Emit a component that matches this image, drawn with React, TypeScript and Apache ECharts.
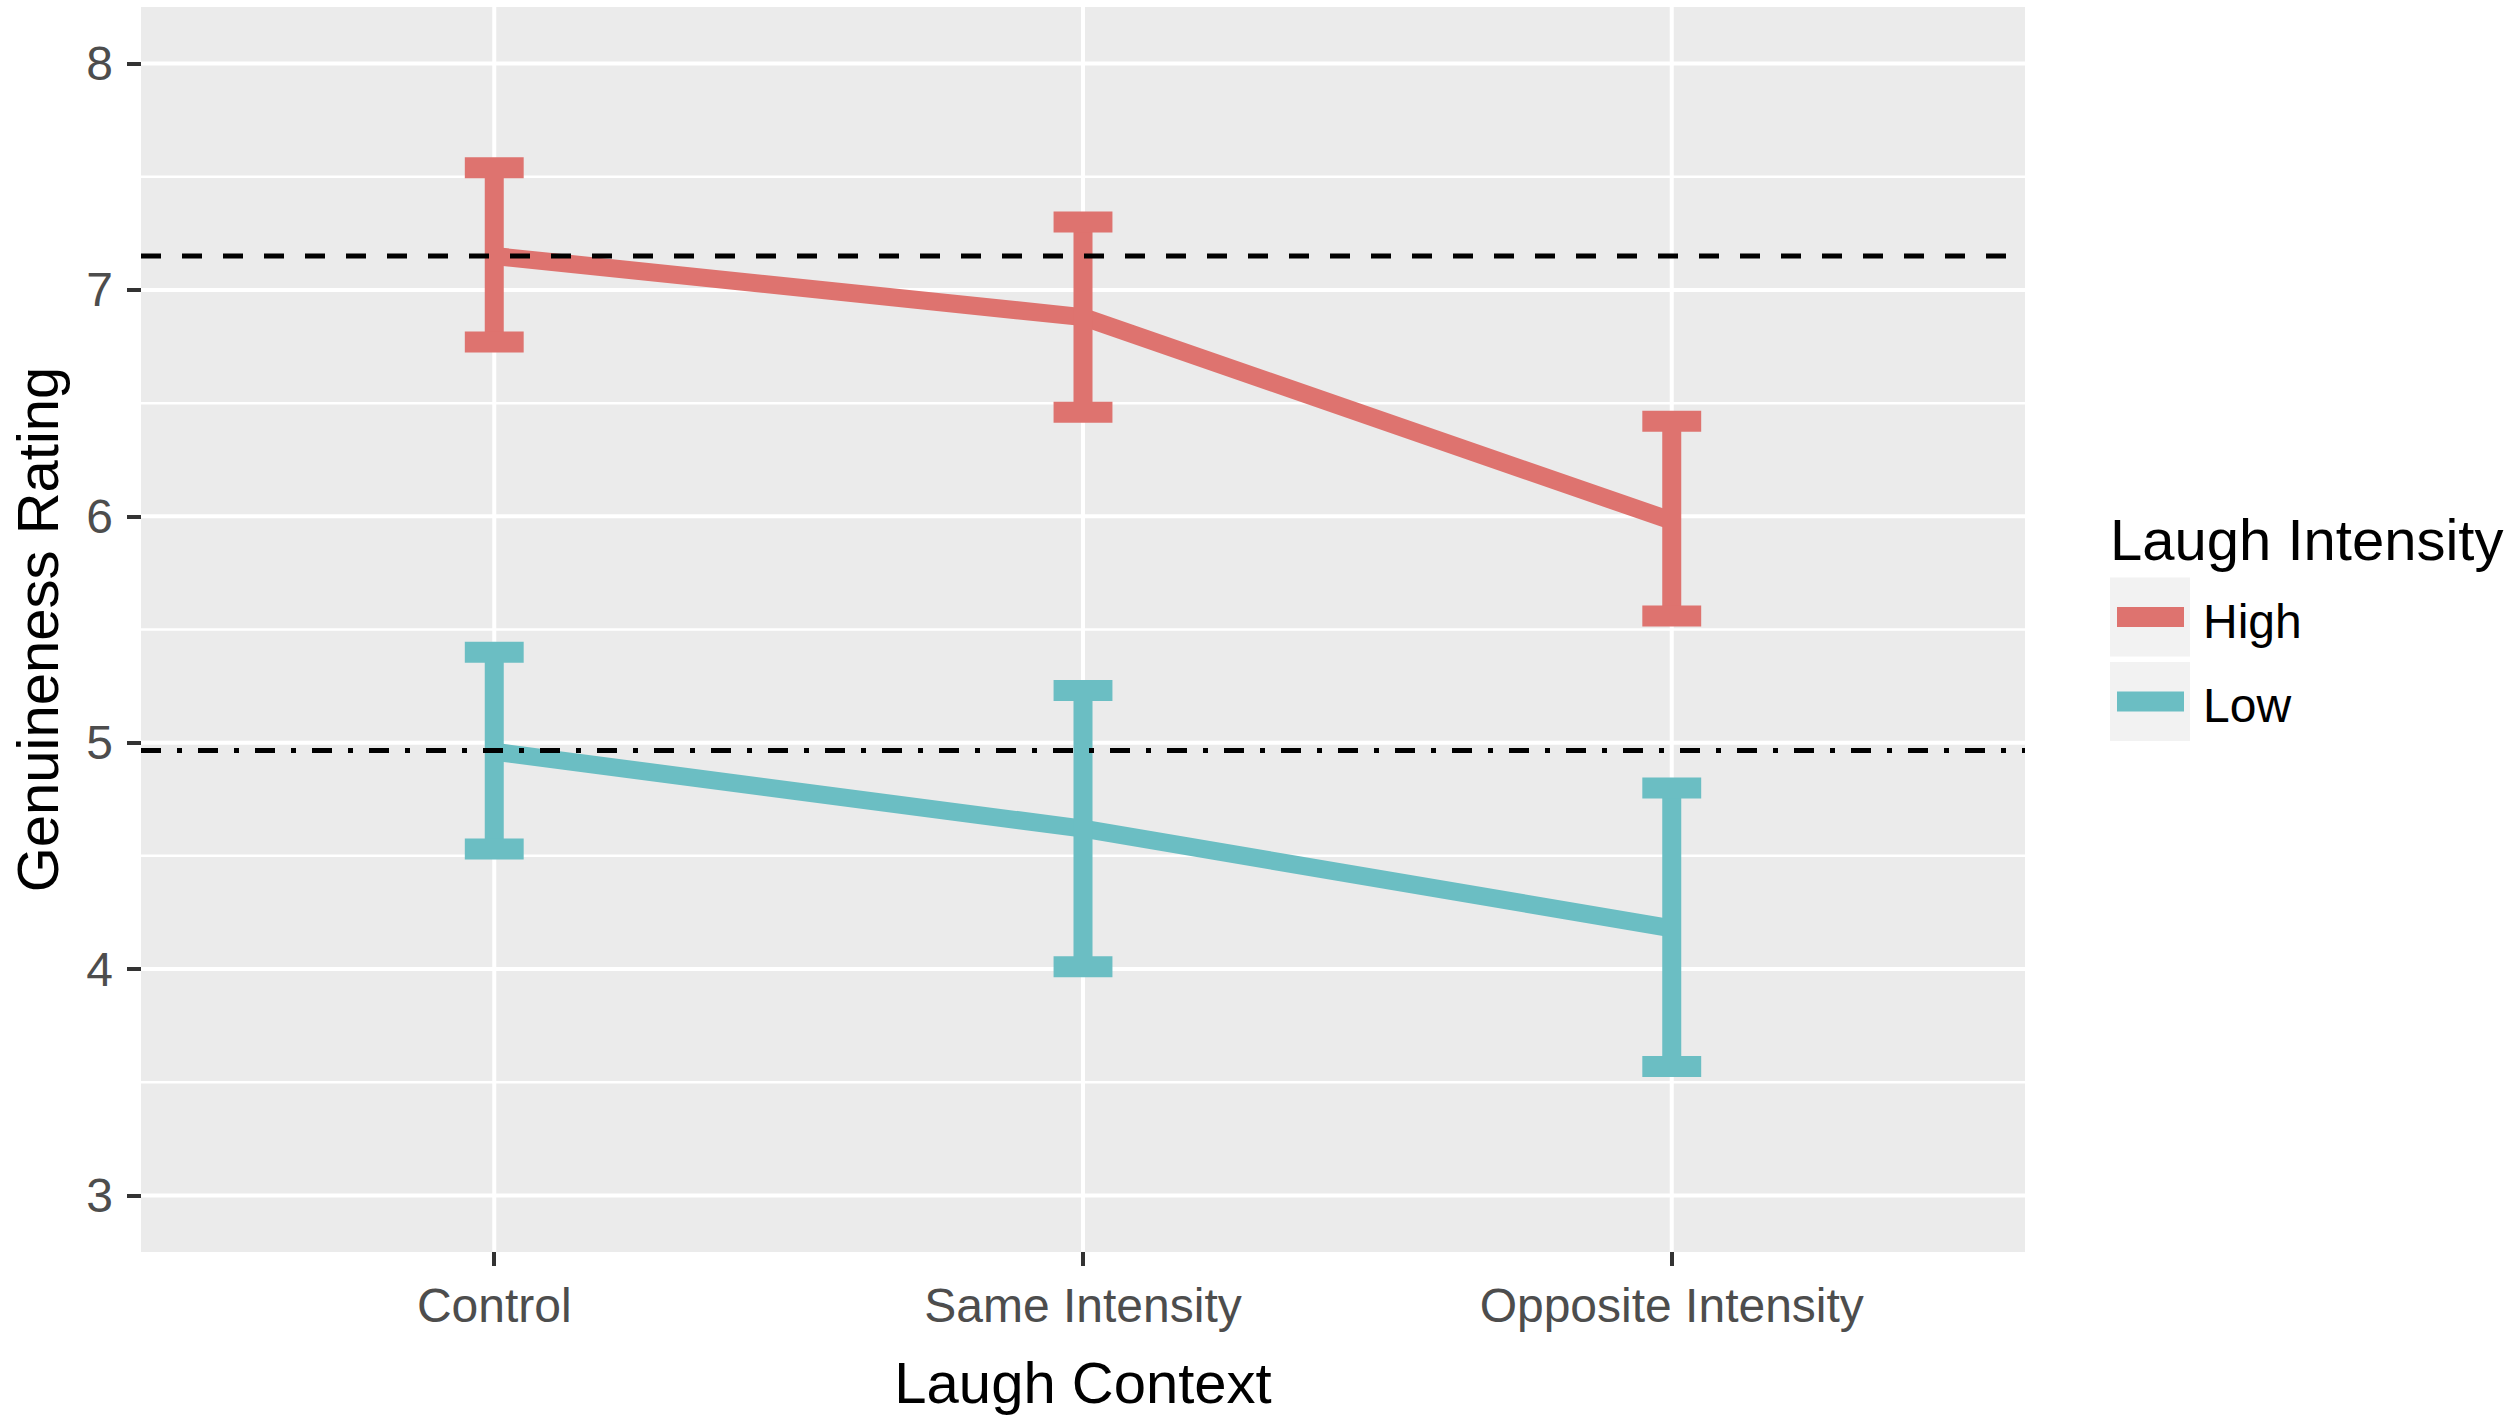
import React, { useEffect, useRef } from "react";
import * as echarts from "echarts";

const categories = ["Control", "Same Intensity", "Opposite Intensity"];
const xPositions = [0, 1, 2];
const groupNames = ["High", "Low"];
const groupColors = ["#DE736F", "#6BBEC3"];
const highMean = [7.15, 6.88, 5.98];
const highLower = [6.77, 6.46, 5.56];
const highUpper = [7.54, 7.3, 6.42];
const lowMean = [4.96, 4.62, 4.18];
const lowLower = [4.53, 4.01, 3.57];
const lowUpper = [5.4, 5.23, 4.8];
const dashedRef = 7.15;
const dotDashRef = 4.965;
const yMajorTicks = [3, 4, 5, 6, 7, 8];
const yMinorTicks = [3.5, 4.5, 5.5, 6.5, 7.5];
const xTitle = "Laugh Context";
const yTitle = "Genuineness Rating";
const legendTitle = "Laugh Intensity";

const FONT = "'Liberation Sans', Arial, Helvetica, sans-serif";
const X_MIN = -0.6;
const X_MAX = 2.6;
const Y_MIN = 2.75;
const Y_MAX = 8.25;
const CAP_HALF = 0.05;

function hGridItem(width: number) {
  return (params: any, api: any) => {
    const cs = params.coordSys;
    const y = api.coord([0, api.value(1)])[1];
    return {
      type: "line",
      shape: { x1: cs.x, y1: y, x2: cs.x + cs.width, y2: y },
      style: { stroke: "#FFFFFF", lineWidth: width },
    };
  };
}

function vGridItem(params: any, api: any) {
  const cs = params.coordSys;
  const x = api.coord([api.value(0), Y_MIN])[0];
  return {
    type: "line",
    shape: { x1: x, y1: cs.y, x2: x, y2: cs.y + cs.height },
    style: { stroke: "#FFFFFF", lineWidth: 4 },
  };
}

function refLineItem(dash: number[]) {
  return (params: any, api: any) => {
    const cs = params.coordSys;
    const y = api.coord([0, api.value(1)])[1];
    return {
      type: "line",
      shape: { x1: cs.x, y1: y, x2: cs.x + cs.width, y2: y },
      style: { stroke: "#000000", lineWidth: 5, lineDash: dash },
    };
  };
}

function errorBarItem(color: string) {
  return (params: any, api: any) => {
    const x = api.value(0);
    const lo = api.value(1);
    const hi = api.value(2);
    const pLo = api.coord([x, lo]);
    const pHi = api.coord([x, hi]);
    const l = api.coord([x - CAP_HALF, lo])[0];
    const r = api.coord([x + CAP_HALF, lo])[0];
    return {
      type: "group",
      children: [
        {
          type: "line",
          shape: { x1: pLo[0], y1: pLo[1], x2: pHi[0], y2: pHi[1] },
          style: { stroke: color, lineWidth: 19 },
        },
        {
          type: "line",
          shape: { x1: l, y1: pHi[1], x2: r, y2: pHi[1] },
          style: { stroke: color, lineWidth: 21 },
        },
        {
          type: "line",
          shape: { x1: l, y1: pLo[1], x2: r, y2: pLo[1] },
          style: { stroke: color, lineWidth: 21 },
        },
      ],
    };
  };
}

export default function App() {
  const ref = useRef<HTMLDivElement>(null);

  useEffect(() => {
    document.body.style.margin = "0";
    if (!ref.current) return;
    const chart = echarts.init(ref.current, undefined, { renderer: "svg" });

    const means = [highMean, lowMean];
    const lowers = [highLower, lowLower];
    const uppers = [highUpper, lowUpper];

    const lineSeries = groupNames.map((name, gi) => ({
      name,
      type: "line",
      z: 3,
      data: xPositions.map((x, i) => [x, means[gi][i]]),
      symbol: "none",
      lineStyle: { color: groupColors[gi], width: 18, cap: "butt", join: "round" },
      silent: true,
    }));

    const errorSeries = groupNames.map((name, gi) => ({
      name: name + " error",
      type: "custom",
      z: 4,
      silent: true,
      renderItem: errorBarItem(groupColors[gi]),
      data: xPositions.map((x, i) => [x, lowers[gi][i], uppers[gi][i]]),
    }));

    const legendY = [617, 701.5];
    const legendGraphics: any[] = [
      {
        type: "text",
        left: 2110,
        top: 540 - 30,
        style: {
          text: legendTitle,
          font: `58px ${FONT}`,
          fill: "#000000",
        },
      },
    ];
    groupNames.forEach((name, gi) => {
      legendGraphics.push({
        type: "rect",
        shape: { x: 2110, y: legendY[gi] - 39.5, width: 80, height: 79 },
        style: { fill: "#F2F2F2" },
      });
      legendGraphics.push({
        type: "line",
        shape: { x1: 2117, y1: legendY[gi], x2: 2184, y2: legendY[gi] },
        style: { stroke: groupColors[gi], lineWidth: 20 },
      });
      legendGraphics.push({
        type: "text",
        x: 2203,
        y: legendY[gi] + 4,
        style: {
          text: name,
          font: `48px ${FONT}`,
          fill: "#000000",
          textVerticalAlign: "middle",
          verticalAlign: "middle",
        },
      });
    });

    const option: any = {
      animation: false,
      backgroundColor: "#FFFFFF",
      grid: {
        left: 141,
        top: 7,
        width: 1884,
        height: 1245,
        show: true,
        backgroundColor: "#EBEBEB",
        borderWidth: 0,
        containLabel: false,
        outerBoundsMode: "none",
      },
      xAxis: {
        type: "value",
        min: X_MIN,
        max: X_MAX,
        name: xTitle,
        nameLocation: "middle",
        nameGap: 130,
        nameTextStyle: {
          fontFamily: FONT,
          fontSize: 58,
          color: "#000000",
          verticalAlign: "middle",
        },
        axisLine: { show: false, onZero: false },
        splitLine: { show: false },
        axisTick: {
          show: true,
          customValues: xPositions,
          length: 14,
          lineStyle: { color: "#333333", width: 4 },
        },
        axisLabel: {
          customValues: xPositions,
          formatter: (v: number) => categories[Math.round(v)] ?? "",
          fontFamily: FONT,
          fontSize: 48,
          color: "#4D4D4D",
          margin: 53,
          verticalAlign: "middle",
        },
      },
      yAxis: {
        type: "value",
        min: Y_MIN,
        max: Y_MAX,
        name: yTitle,
        nameLocation: "middle",
        nameGap: 104,
        nameTextStyle: {
          fontFamily: FONT,
          fontSize: 58,
          color: "#000000",
          verticalAlign: "middle",
        },
        axisLine: { show: false, onZero: false },
        splitLine: { show: false },
        axisTick: {
          show: true,
          customValues: yMajorTicks,
          length: 14,
          lineStyle: { color: "#333333", width: 4 },
        },
        axisLabel: {
          customValues: yMajorTicks,
          formatter: (v: number) => String(Math.round(v)),
          fontFamily: FONT,
          fontSize: 48,
          color: "#4D4D4D",
          margin: 28,
        },
      },
      series: [
        {
          name: "minor grid",
          type: "custom",
          z: 1,
          silent: true,
          renderItem: hGridItem(2.5),
          data: yMinorTicks.map((v) => [0, v]),
        },
        {
          name: "major grid",
          type: "custom",
          z: 1,
          silent: true,
          renderItem: hGridItem(4),
          data: yMajorTicks.map((v) => [0, v]),
        },
        {
          name: "x grid",
          type: "custom",
          z: 1,
          silent: true,
          renderItem: vGridItem,
          data: xPositions.map((x) => [x, Y_MIN]),
        },
        ...lineSeries,
        ...errorSeries,
        {
          name: "dashed ref",
          type: "custom",
          z: 6,
          silent: true,
          renderItem: refLineItem([20, 21]),
          data: [[0, dashedRef]],
        },
        {
          name: "dotdash ref",
          type: "custom",
          z: 6,
          silent: true,
          renderItem: refLineItem([20, 16, 5, 16]),
          data: [[0, dotDashRef]],
        },
      ],
      graphic: legendGraphics,
    };

    chart.setOption(option);
    return () => chart.dispose();
  }, []);

  return <div ref={ref} style={{ width: 2510, height: 1423 }} />;
}
